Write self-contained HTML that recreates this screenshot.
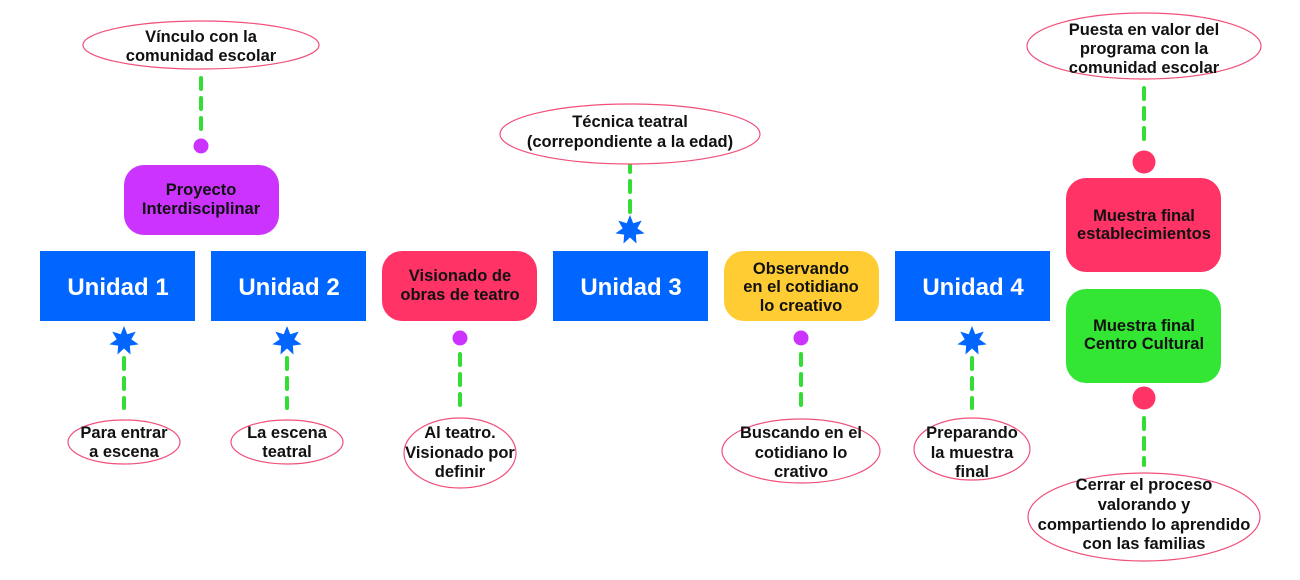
<!DOCTYPE html>
<html><head><meta charset="utf-8"><style>
html,body{margin:0;padding:0;background:#fff;}
svg{display:block;}
text{font-family:"Liberation Sans",sans-serif;font-weight:bold;fill:#111;text-anchor:middle;}
.u{fill:#fff;font-weight:bold;font-size:24px;}
.l{font-size:16.5px;}
.e{fill:#fff;stroke:#F0507A;stroke-width:1.2;}
.d{stroke:#33DD33;stroke-width:4;stroke-dasharray:11 9;stroke-linecap:round;}
</style></head><body>
<svg width="1300" height="580" viewBox="0 0 1300 580" xmlns="http://www.w3.org/2000/svg">
<defs>
<polygon id="st" fill="#0066FF" points="0,-15 3.25,-6.76 11.73,-9.35 7.31,-1.67 14.62,3.34 5.86,4.68 6.51,13.51 0,7.5 -6.51,13.51 -5.86,4.68 -14.62,3.34 -7.31,-1.67 -11.73,-9.35 -3.25,-6.76"/>
</defs>
<line class="d" x1="201" y1="78" x2="201" y2="130"/>
<line class="d" x1="124" y1="358" x2="124" y2="408"/>
<line class="d" x1="287" y1="358" x2="287" y2="408"/>
<line class="d" x1="460" y1="354" x2="460" y2="408"/>
<line class="d" x1="630" y1="161" x2="630" y2="214"/>
<line class="d" x1="801" y1="354" x2="801" y2="408"/>
<line class="d" x1="972" y1="358" x2="972" y2="408"/>
<line class="d" x1="1144" y1="88" x2="1144" y2="140"/>
<line class="d" x1="1144" y1="418" x2="1144" y2="465"/>
<rect x="40" y="251" width="155" height="70" fill="#0066FF"/>
<rect x="211" y="251" width="155" height="70" fill="#0066FF"/>
<rect x="382" y="251" width="155" height="70" rx="20" fill="#FF3366"/>
<rect x="553" y="251" width="155" height="70" fill="#0066FF"/>
<rect x="724" y="251" width="155" height="70" rx="20" fill="#FFCC33"/>
<rect x="895" y="251" width="155" height="70" fill="#0066FF"/>
<rect x="124" y="165" width="155" height="70" rx="20" fill="#CC33FF"/>
<rect x="1066" y="178" width="155" height="94" rx="20" fill="#FF3366"/>
<rect x="1066" y="289" width="155" height="94" rx="20" fill="#33E633"/>
<text class="u" x="118" y="295">Unidad 1</text>
<text class="u" x="289" y="295">Unidad 2</text>
<text class="u" x="631" y="295">Unidad 3</text>
<text class="u" x="973" y="295">Unidad 4</text>
<text class="l"><tspan x="460" y="281">Visionado de</tspan><tspan x="460" y="300">obras de teatro</tspan></text>
<text class="l"><tspan x="801" y="274">Observando</tspan><tspan x="801" y="292">en el cotidiano</tspan><tspan x="801" y="311">lo creativo</tspan></text>
<text class="l"><tspan x="201" y="195">Proyecto</tspan><tspan x="201" y="214">Interdisciplinar</tspan></text>
<text class="l"><tspan x="1144" y="221">Muestra final</tspan><tspan x="1144" y="239">establecimientos</tspan></text>
<text class="l"><tspan x="1144" y="331">Muestra final</tspan><tspan x="1144" y="349">Centro Cultural</tspan></text>
<circle cx="201" cy="146" r="7.5" fill="#CC33FF"/>
<circle cx="460" cy="338" r="7.5" fill="#CC33FF"/>
<circle cx="801" cy="338" r="7.5" fill="#CC33FF"/>
<circle cx="1144" cy="162" r="11.5" fill="#FF3366"/>
<circle cx="1144" cy="398" r="11.5" fill="#FF3366"/>
<use href="#st" x="124" y="341"/>
<use href="#st" x="287" y="341"/>
<use href="#st" x="630" y="230"/>
<use href="#st" x="972" y="341"/>
<ellipse class="e" cx="201" cy="45" rx="118" ry="24"/>
<text class="l"><tspan x="201" y="42">Vínculo con la</tspan><tspan x="201" y="61">comunidad escolar</tspan></text>
<ellipse class="e" cx="630" cy="134" rx="130" ry="30"/>
<text class="l"><tspan x="630" y="127">Técnica teatral</tspan><tspan x="630" y="147">(correpondiente a la edad)</tspan></text>
<ellipse class="e" cx="1144" cy="46" rx="117" ry="33"/>
<text class="l"><tspan x="1144" y="35">Puesta en valor del</tspan><tspan x="1144" y="54">programa con la</tspan><tspan x="1144" y="73">comunidad escolar</tspan></text>
<ellipse class="e" cx="124" cy="442" rx="56" ry="22"/>
<text class="l"><tspan x="124" y="438">Para entrar</tspan><tspan x="124" y="457">a escena</tspan></text>
<ellipse class="e" cx="287" cy="442" rx="56" ry="22"/>
<text class="l"><tspan x="287" y="438">La escena</tspan><tspan x="287" y="457">teatral</tspan></text>
<ellipse class="e" cx="460" cy="453" rx="56" ry="35"/>
<text class="l"><tspan x="460" y="438">Al teatro.</tspan><tspan x="460" y="458">Visionado por</tspan><tspan x="460" y="477">definir</tspan></text>
<ellipse class="e" cx="801" cy="451" rx="79" ry="32"/>
<text class="l"><tspan x="801" y="438">Buscando en el</tspan><tspan x="801" y="458">cotidiano lo</tspan><tspan x="801" y="477">crativo</tspan></text>
<ellipse class="e" cx="972" cy="449" rx="58" ry="31"/>
<text class="l"><tspan x="972" y="438">Preparando</tspan><tspan x="972" y="458">la muestra</tspan><tspan x="972" y="477">final</tspan></text>
<ellipse class="e" cx="1144" cy="517" rx="116" ry="44"/>
<text class="l"><tspan x="1144" y="490">Cerrar el proceso</tspan><tspan x="1144" y="510">valorando y</tspan><tspan x="1144" y="530">compartiendo lo aprendido</tspan><tspan x="1144" y="549">con las familias</tspan></text>
</svg>
</body></html>
